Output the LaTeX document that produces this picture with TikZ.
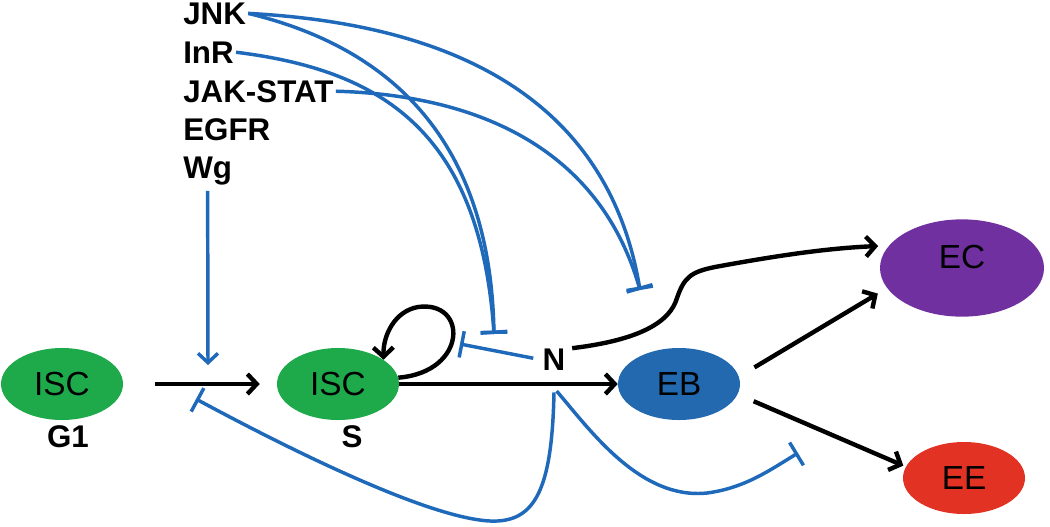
\documentclass[tikz,border=0pt]{standalone}
\usepackage{fontspec}
\setmainfont{Liberation Sans}
\usetikzlibrary{arrows.meta,shapes.geometric}
\definecolor{iscg}{RGB}{30,170,75}
\definecolor{ebc}{RGB}{35,105,175}
\definecolor{eec}{RGB}{225,50,35}
\definecolor{ecc}{RGB}{112,48,160}
\definecolor{lineblue}{RGB}{30,105,185}
\begin{document}
\begin{tikzpicture}[x=0.75pt,y=-0.75pt,
  cellnode/.style={ellipse, draw=none, inner sep=0pt, minimum width=91.5pt, minimum height=54pt, font=\fontsize{25}{25}\selectfont},
  lab/.style={font=\bfseries\fontsize{23.5}{23.5}\selectfont, inner sep=1.5pt},
  act/.style={draw=black, line width=3.3pt, -{Straight Barb[length=7pt,width=15pt]}},
  bact/.style={draw=lineblue, line width=2.6pt, -{Straight Barb[length=7pt,width=15pt]}},
  inh/.style={draw=lineblue, line width=2.6pt, -{Bar[width=20pt]}}]
\useasboundingbox (0,0) rectangle (1050,526);

% cells
\node[cellnode, fill=iscg] (g1) at (62,384) {ISC};
\node[lab] (g1l) at (68,437) {G1};
\node[cellnode, fill=iscg] (s) at (338,384) {ISC};
\node[lab] (sl) at (352,437) {S};
\node[cellnode, fill=ebc] (eb) at (679,384) {EB};
\node[cellnode, fill=eec] (ee) at (964,478) {EE};
\node[cellnode, fill=ecc, minimum width=123pt, minimum height=73pt,
  label={[font=\fontsize{25}{25}\selectfont, yshift=8pt]center:EC}] (ec) at (962,268) {};
\node[lab, inner sep=0pt] (n) at (554,360) {N};

% signals
\node[lab, anchor=base west] (jnk) at (181,24) {JNK};
\node[lab, anchor=base west] (inr) at (181,63) {InR};
\node[lab, anchor=base west] (jak) at (181,102) {JAK-STAT};
\node[lab, anchor=base west] (egfr) at (181,140) {EGFR};
\node[lab, anchor=base west] (wg) at (181,178) {Wg};

% free ends
\coordinate (lowbar) at (494,334);
\coordinate (upbar) at (640,290);
\coordinate (nbar) at (460,344);
\coordinate (wgtip) at (208,365);
\coordinate (g1bar) at (196,399);
\coordinate (ebbar) at (798,453);

% black arrows
\draw[act, shorten <=24pt, shorten >=12.75pt] (g1) -- (s);
\draw[act] (s) -- (eb);
\draw[act] (s.6) .. controls (468,372) and (468,300) .. (418,307) .. controls (395,311) and (383,335) .. (s.28);
\draw[act, shorten <=13.5pt, shorten >=8pt] (eb.7) -- (ec.195);
\draw[act, shorten <=13pt, shorten >=2pt] (eb.-10) -- (ee.169);
\draw[act, shorten <=5pt, shorten >=8pt] (n.north east) .. controls (640,340) and (670,322) .. (677,298)
  .. controls (684,278) and (690,272) .. (715,267) .. controls (780,255) and (830,248) .. (ec.163);

% blue regulation
\draw[bact, shorten <=3pt] (wg.south) -- (wgtip);
\draw[inh] (jnk.east) .. controls (380,45) and (490,130) .. (lowbar);
\draw[inh] (inr.east) .. controls (380,70) and (480,130) .. (lowbar);
\draw[inh] (jnk.east) .. controls (470,25) and (610,110) .. (upbar);
\draw[inh] (jak.east) .. controls (480,95) and (600,150) .. (upbar);
\draw[inh, shorten <=7pt] (n.west) -- (nbar);
\draw[inh] ([yshift=-16pt]n.south) .. controls (552,490) and (535,523) .. (490,521)
  .. controls (430,518) and (300,455) .. (g1bar);
\draw[inh] ([xshift=2pt,yshift=-15pt]n.south) .. controls (590,430) and (640,500) .. (707,493)
  .. controls (745,488) and (770,470) .. (ebbar);
\end{tikzpicture}
\end{document}
